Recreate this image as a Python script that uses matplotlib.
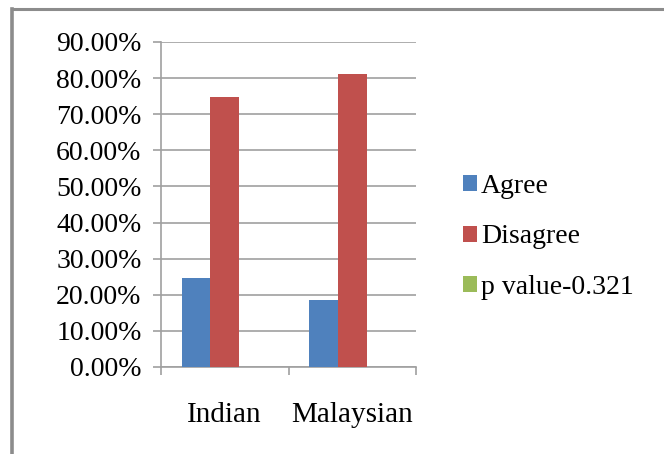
import matplotlib.pyplot as plt
import numpy as np
from matplotlib.lines import Line2D
from matplotlib.ticker import FuncFormatter, FixedLocator

# Survey responses by group
groups = ["Indian", "Malaysian"]
agree = [24.7, 18.5]
disagree = [74.8, 81.1]
p_value = [0.0, 0.0]
series_names = ["Agree", "Disagree", "p value-0.321"]
colors = ["#4F81BD", "#C0504D", "#9BBB59"]

plt.rcParams["font.family"] = "serif"
plt.rcParams["font.serif"] = ["Liberation Serif", "DejaVu Serif"]

W, H = 664, 454
fig = plt.figure(figsize=(W / 100, H / 100), dpi=100)

# plot area in pixel units -> figure fraction
left, right, top, bottom = 161, 416, 42, 367
ax = fig.add_axes([left / W, (H - bottom) / H, (right - left) / W, (bottom - top) / H])

grid_c = "#A0A0A0"
x = np.arange(len(groups)) + 0.5
w = 0.225
for i, (vals, name) in enumerate(zip([agree, disagree, p_value], series_names)):
    ax.bar(x + (i - 1) * w, np.array(vals) / 100, width=w, color=colors[i],
           label=name, zorder=3)

ax.set_xlim(0, len(groups))
ax.set_ylim(0, 0.9)
ax.set_yticks(np.arange(0, 0.91, 0.1))
ax.yaxis.set_major_formatter(FuncFormatter(lambda v, _: f"{v * 100:.2f}%"))
ax.yaxis.grid(True, color=grid_c, linewidth=1.2, zorder=0)

# category boundaries get tick marks, labels sit at the centres
ax.xaxis.set_major_locator(FixedLocator([0, 1, 2]))
ax.xaxis.set_minor_locator(FixedLocator(x))
ax.set_xticklabels([])
ax.set_xticklabels(groups, minor=True)
ax.tick_params(axis="x", which="major", length=6, width=1.2, color=grid_c)
ax.tick_params(axis="x", which="minor", length=0, labelsize=21, pad=25)
ax.tick_params(axis="y", length=6, width=1.2, color=grid_c, labelsize=20, pad=8)

for s in ["top", "right"]:
    ax.spines[s].set_visible(False)
for s in ["left", "bottom"]:
    ax.spines[s].set_color(grid_c)
    ax.spines[s].set_linewidth(1.2)

ax.legend(loc="center left", bbox_to_anchor=(463 / W, 1 - 237 / H),
          bbox_transform=fig.transFigure, frameon=False, fontsize=20,
          handlelength=0.5, handleheight=0.5, handletextpad=0.15,
          labelspacing=0.92, borderpad=0, borderaxespad=0)

# chart outline along top and left edge
fig.add_artist(Line2D([12 / W, 1], [1 - 9 / H, 1 - 9 / H], color="#8C8C8C", linewidth=2.2))
fig.add_artist(Line2D([12 / W, 12 / W], [0, 1 - 9 / H], color="#8C8C8C", linewidth=2.6))

fig.savefig("out.png", dpi=100)
